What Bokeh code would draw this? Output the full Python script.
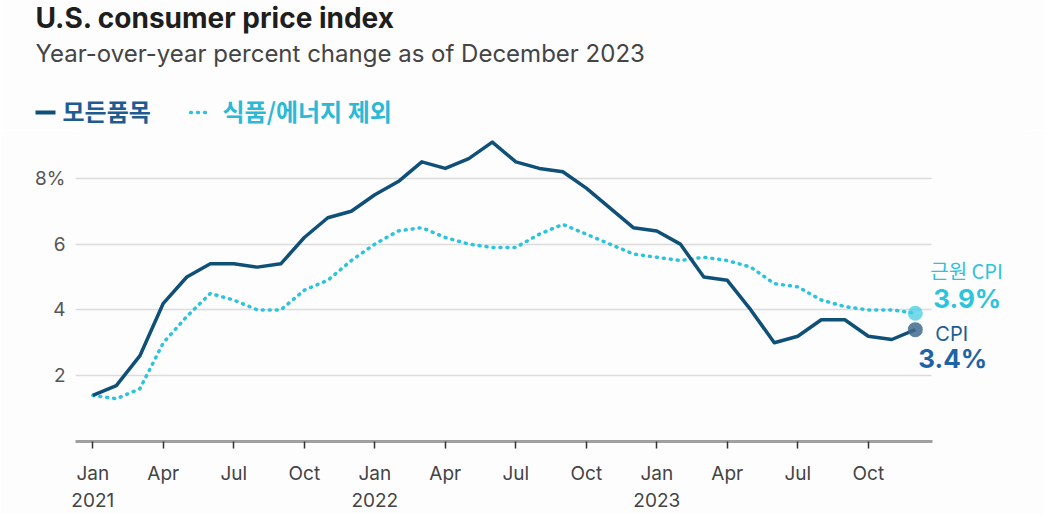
from bokeh.plotting import figure
from bokeh.layouts import column
from bokeh.models import Range1d, FixedTicker
from bokeh.core.properties import value
from bokeh.embed import file_html
from bokeh.resources import INLINE

# ---- data (YoY % change, Jan 2021 .. Dec 2023) ----
months = list(range(36))
cpi_all = [1.4, 1.7, 2.6, 4.2, 5.0, 5.4, 5.4, 5.3, 5.4, 6.2, 6.8, 7.0,
           7.5, 7.9, 8.5, 8.3, 8.6, 9.1, 8.5, 8.3, 8.2, 7.7, 7.1, 6.5,
           6.4, 6.0, 5.0, 4.9, 4.0, 3.0, 3.2, 3.7, 3.7, 3.2, 3.1, 3.4]
cpi_core = [1.4, 1.3, 1.6, 3.0, 3.8, 4.5, 4.3, 4.0, 4.0, 4.6, 4.9, 5.5,
            6.0, 6.4, 6.5, 6.2, 6.0, 5.9, 5.9, 6.3, 6.6, 6.3, 6.0, 5.7,
            5.6, 5.5, 5.6, 5.5, 5.3, 4.8, 4.7, 4.3, 4.1, 4.0, 4.0, 3.9]
tick_months = [0, 3, 6, 9, 12, 15, 18, 21, 24, 27, 30, 33]
tick_labels = ["Jan\n2021", "Apr", "Jul", "Oct", "Jan\n2022", "Apr", "Jul", "Oct",
               "Jan\n2023", "Apr", "Jul", "Oct"]
y_ticks = [2, 4, 6, 8]
y_labels = ["2", "4", "6", "8%"]
title_text = "U.S. consumer price index"
subtitle_text = "Year-over-year percent change as of December 2023"
legend_all = "모든품목"
legend_core = "식품/에너지 제외"
end_core_name = "근원 CPI"
end_all_name = "CPI"

NAVY = "#0f5078"
CYAN = "#2ec3dc"
TXT_BLUE = "#1d5c92"
BG = "#fdfdfd"
FONT = "Inter"
KFONT = "Noto Sans CJK KR"
W = 1045

# ---------------- header (title, subtitle, legend) ----------------
HH = 130
hdr = figure(frame_width=W, frame_height=HH, output_backend="svg", toolbar_location=None,
             x_range=Range1d(0, W), y_range=Range1d(HH, 0),
             x_axis_type=None, y_axis_type=None, min_border=0)
try:
    hdr.frame_align = False
except Exception:
    pass
hdr.background_fill_color = BG
hdr.border_fill_color = BG
hdr.outline_line_color = None
hdr.grid.grid_line_color = None

hdr.text([35], [17], text=[title_text], text_font=value(FONT), text_font_size="28px",
         text_font_style="bold", text_color="#1e1e1e", text_baseline="middle")
hdr.text([35], [53], text=[subtitle_text], text_font=value(FONT), text_font_size="24px",
         text_color="#444444", text_baseline="middle")
hdr.segment([35], [112], [55], [112], line_color=NAVY, line_width=4)
hdr.text([62], [110], text=[legend_all], text_font=value(KFONT), text_font_size="24px",
         text_font_style="bold", text_color=TXT_BLUE, text_baseline="middle")
hdr.segment([190], [112], [211], [112], line_color=CYAN, line_width=3.5,
            line_dash="1 6", line_cap="round")
hdr.text([222], [110], text=[legend_core], text_font=value(KFONT), text_font_size="24px",
         text_font_style="bold", text_color="#2bb9d6", text_baseline="middle")

# ---------------- main chart ----------------
PX_MONTH = 23.5
X0 = 92.3          # pixel of Jan 2021
FL = 75            # frame left pixel
FR = 1030          # frame right pixel
FH = 311           # frame height
x_start = (FL - X0) / PX_MONTH
x_end = (FR - X0) / PX_MONTH
x_axis_end = 35.75
y_top = FH / 32.9

p = figure(frame_width=FR - FL, frame_height=FH, output_backend="svg",
           toolbar_location=None,
           x_range=Range1d(x_start, x_end), y_range=Range1d(0, y_top),
           min_border_left=FL, min_border_right=W - FR, min_border_top=0,
           min_border_bottom=0)
try:
    p.frame_align = False
except Exception:
    pass
p.background_fill_color = BG
p.border_fill_color = BG
p.outline_line_color = None

p.xaxis.bounds = (x_start, x_axis_end)
p.xaxis.ticker = FixedTicker(ticks=tick_months)
p.xaxis.major_label_overrides = {m: l for m, l in zip(tick_months, tick_labels)}
p.xaxis.axis_line_color = "#a0a0a0"
p.xaxis.axis_line_width = 3
p.xaxis.major_tick_line_color = "#333333"
p.xaxis.major_tick_line_width = 1.5
p.xaxis.major_tick_in = 0
p.xaxis.major_tick_out = 7
p.xaxis.minor_tick_line_color = None
p.xaxis.major_label_text_font = FONT
p.xaxis.major_label_text_font_size = "19px"
p.xaxis.major_label_text_color = "#444444"
p.xaxis.major_label_standoff = 13

p.yaxis.ticker = FixedTicker(ticks=y_ticks)
p.yaxis.major_label_overrides = {t: l for t, l in zip(y_ticks, y_labels)}
p.yaxis.axis_line_color = None
p.yaxis.major_tick_line_color = None
p.yaxis.major_tick_out = 0
p.yaxis.major_tick_in = 0
p.yaxis.minor_tick_line_color = None
p.yaxis.major_label_text_font = FONT
p.yaxis.major_label_text_font_size = "19px"
p.yaxis.major_label_text_color = "#555555"
p.yaxis.major_label_standoff = 10

p.xgrid.grid_line_color = None
p.ygrid.ticker = FixedTicker(ticks=y_ticks)
p.ygrid.grid_line_color = "#dcdcdc"
p.ygrid.grid_line_width = 1.5
try:
    p.ygrid.cross_bounds = (x_start, 35.7)
except Exception:
    # fallback: grid lines limited to the axis extent
    p.ygrid.grid_line_color = None
    p.segment([x_start] * len(y_ticks), y_ticks, [35.7] * len(y_ticks), y_ticks,
              line_color="#dcdcdc", line_width=1.5)

p.line(months, cpi_core, line_color=CYAN, line_width=3.5, line_dash="1 6",
       line_cap="round", line_join="round")
p.line(months, cpi_all, line_color=NAVY, line_width=3.5, line_join="round")

p.scatter([months[-1]], [cpi_core[-1]], size=15, fill_color="#45cde3",
          fill_alpha=0.75, line_color=None)
p.scatter([months[-1]], [cpi_all[-1]], size=15, fill_color="#3f6b8d",
          fill_alpha=0.85, line_color=None)

p.text([months[-1]], [cpi_core[-1]], text=[end_core_name], x_offset=15, y_offset=-43,
       text_font=value(KFONT), text_font_size="20px", text_color=CYAN,
       text_baseline="middle", text_align="left")
p.text([months[-1]], [cpi_core[-1]], text=[f"{cpi_core[-1]}%"], x_offset=52, y_offset=-15,
       text_font=value(FONT), text_font_size="26px", text_font_style="bold",
       text_color=CYAN, text_baseline="middle", text_align="center")
p.text([months[-1]], [cpi_all[-1]], text=[end_all_name], x_offset=20, y_offset=4,
       text_font=value(FONT), text_font_size="20px", text_color=TXT_BLUE,
       text_baseline="middle", text_align="left")
p.text([months[-1]], [cpi_all[-1]], text=[f"{cpi_all[-1]}%"], x_offset=3, y_offset=29,
       text_font=value(FONT), text_font_size="26px", text_font_style="bold",
       text_color="#1d63a6", text_baseline="middle", text_align="left")

layout = column(hdr, p, spacing=0)
open("out.html", "w").write(file_html(layout, INLINE))
